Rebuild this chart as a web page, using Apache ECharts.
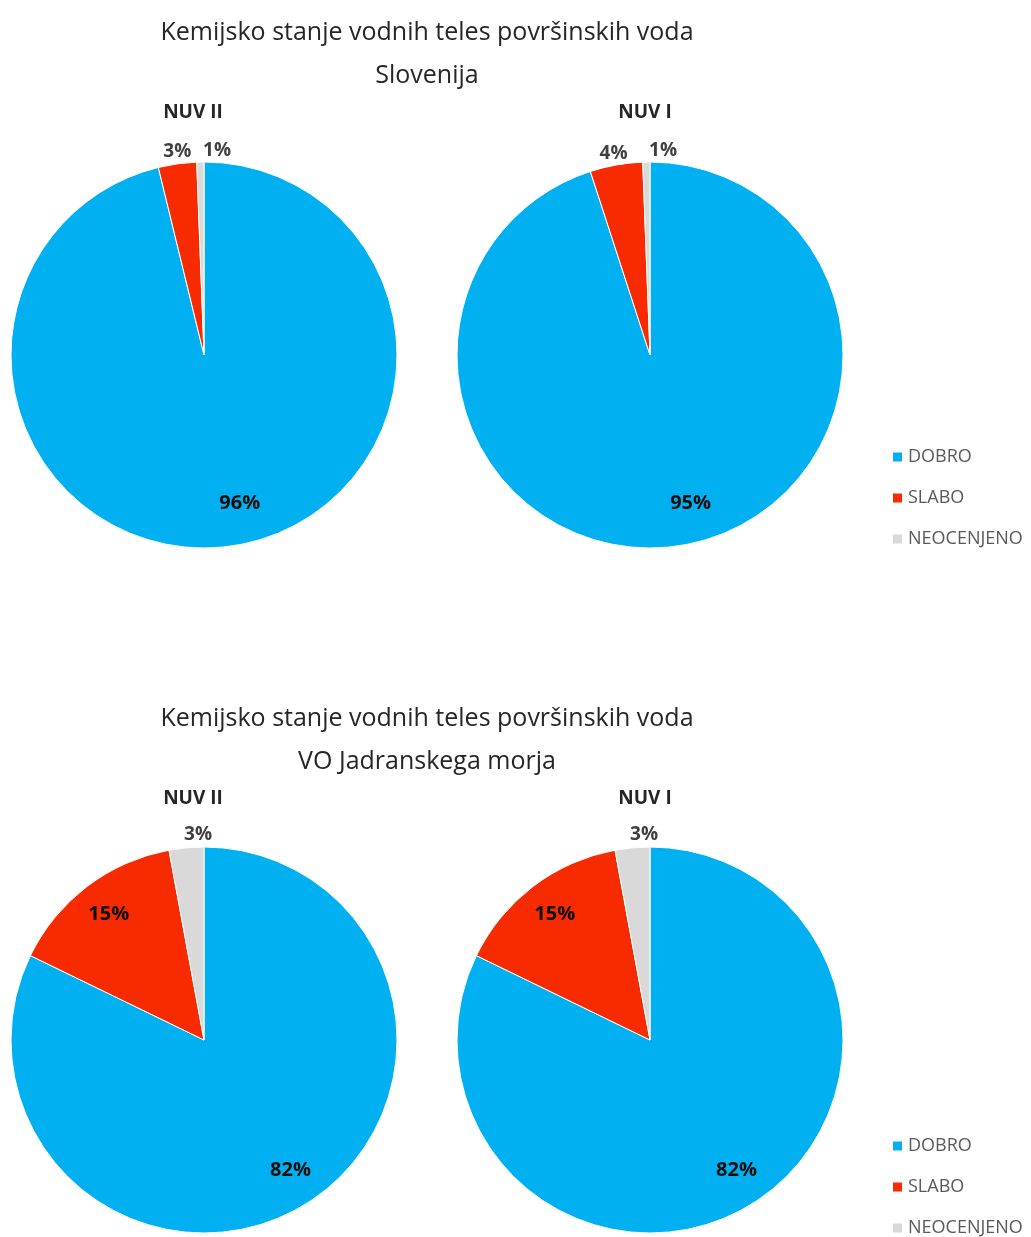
<!DOCTYPE html>
<html><head><meta charset="utf-8">
<script src="https://cdn.jsdelivr.net/npm/echarts@6/dist/echarts.min.js"></script>
<style>html,body{margin:0;padding:0;background:#fff}#c{width:1031px;height:1237px}</style>
</head><body><div id="c"></div>
<script>
// ---- data ----
const categories = ['DOBRO', 'SLABO', 'NEOCENJENO'];
const sloveniaNUV2 = [96.2, 3.2, 0.6];
const sloveniaNUV1 = [95.0, 4.4, 0.6];
const jadranNUV2 = [82.2, 14.9, 2.9];
const jadranNUV1 = [82.2, 14.9, 2.9];
const mainTitle = 'Kemijsko stanje vodnih teles površinskih voda';
const regionTitles = ['Slovenija', 'VO Jadranskega morja'];
const pieTitles = ['NUV II', 'NUV I'];

// ---- style / layout ----
const colors = ['#00B0F0', '#F82A00', '#D9D9D9'];
const FONT = '"Open Sans", "DejaVu Sans", sans-serif';
const R = 193;
const panels = [
  { values: sloveniaNUV2, cx: 204, cy: 355, inside: [0], outer: [1, 2],
    inOff: { 0: [17, -8] }, outOff: { 1: [2, 3], 2: [17, 4] } },
  { values: sloveniaNUV1, cx: 650, cy: 355, inside: [0], outer: [1, 2],
    inOff: { 0: [16, -7] }, outOff: { 1: [0, 3], 2: [17, 4] } },
  { values: jadranNUV2, cx: 204, cy: 1040, inside: [0, 1], outer: [2],
    inOff: { 0: [3, -3] }, outOff: { 2: [13, 2] } },
  { values: jadranNUV1, cx: 650, cy: 1040, inside: [0, 1], outer: [2],
    inOff: { 0: [3, -3] }, outOff: { 2: [13, 2] } }
];
const blocks = [{ y: 0, region: 0 }, { y: 686, region: 1 }];

const titles = [];
blocks.forEach(b => {
  titles.push({ text: mainTitle, left: 427, top: b.y + 17, textAlign: 'center', padding: 0,
    textStyle: { fontFamily: FONT, fontSize: 25, fontWeight: 'normal', color: '#262626', lineHeight: 32 } });
  titles.push({ text: regionTitles[b.region], left: 427, top: b.y + 60, textAlign: 'center', padding: 0,
    textStyle: { fontFamily: FONT, fontSize: 25, fontWeight: 'normal', color: '#262626', lineHeight: 32 } });
  titles.push({ text: pieTitles[0], left: 193, top: b.y + 101, textAlign: 'center', padding: 0,
    textStyle: { fontFamily: FONT, fontSize: 19, fontWeight: 'bold', color: '#262626', lineHeight: 24 } });
  titles.push({ text: pieTitles[1], left: 645, top: b.y + 101, textAlign: 'center', padding: 0,
    textStyle: { fontFamily: FONT, fontSize: 19, fontWeight: 'bold', color: '#262626', lineHeight: 24 } });
});

function offsetFn(map) {
  return function (params) {
    const o = map[params.dataIndex] || [0, 0];
    return { dx: o[0], dy: o[1] };
  };
}

const series = [];
panels.forEach(p => {
  const base = {
    type: 'pie', center: [p.cx, p.cy], startAngle: 90, clockwise: true,
    silent: true, animation: false, percentPrecision: 0, avoidLabelOverlap: false,
    emphasis: { disabled: true }, labelLine: { show: false }
  };
  series.push(Object.assign({}, base, {
    radius: [0, R],
    label: { show: false },
    itemStyle: { borderColor: '#fff', borderWidth: 1 },
    data: categories.map((n, i) => ({ name: n, value: p.values[i], itemStyle: { color: colors[i] } }))
  }));
  series.push(Object.assign({}, base, {
    radius: [0.6 * R, R],
    itemStyle: { color: 'rgba(0,0,0,0)', borderWidth: 0 },
    label: { show: true, position: 'inside', formatter: '{d}%', fontFamily: FONT, fontSize: 20,
      fontWeight: 'bold', color: '#0d0d0d', textBorderWidth: 0 },
    labelLayout: offsetFn(p.inOff),
    data: categories.map((n, i) => ({ name: n, value: p.values[i],
      label: { show: p.inside.indexOf(i) >= 0 } }))
  }));
  series.push(Object.assign({}, base, {
    radius: [R + 2, R + 22],
    itemStyle: { color: 'rgba(0,0,0,0)', borderWidth: 0 },
    label: { show: true, position: 'inside', formatter: '{d}%', fontFamily: FONT, fontSize: 19,
      fontWeight: 'bold', color: '#404040', textBorderWidth: 0 },
    labelLayout: offsetFn(p.outOff),
    data: categories.map((n, i) => ({ name: n, value: p.values[i],
      label: { show: p.outer.indexOf(i) >= 0 } }))
  }));
});

const legendBase = {
  orient: 'vertical', left: 891, itemWidth: 11, itemHeight: 11, icon: 'rect', itemGap: 21,
  padding: 0, height: 140, selectedMode: false, data: categories,
  textStyle: { fontFamily: FONT, fontSize: 18, color: '#595959', lineHeight: 20 }
};
const legends = [
  Object.assign({}, legendBase, { top: 447 }),
  Object.assign({}, legendBase, { top: 1136 })
];

const chart = echarts.init(document.getElementById('c'), null, { renderer: 'canvas' });
chart.setOption({
  backgroundColor: '#fff',
  color: colors,
  title: titles,
  legend: legends,
  series: series
});
</script>
</body></html>
